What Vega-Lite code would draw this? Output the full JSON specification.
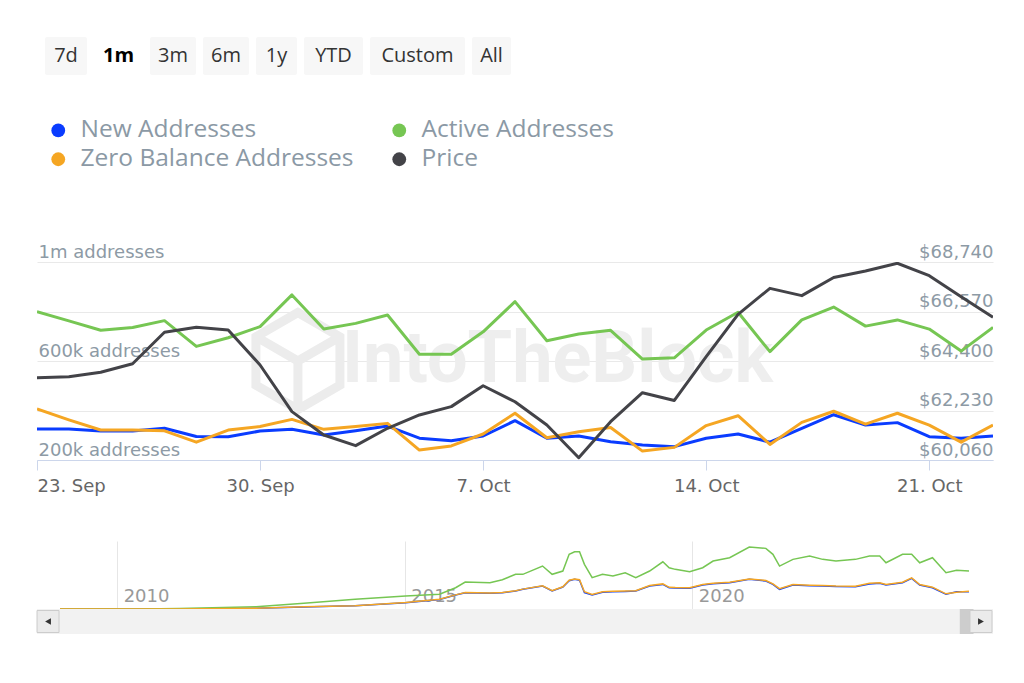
{
  "$schema": "https://vega.github.io/schema/vega-lite/v6.json",
  "padding": {"left": 34, "top": 37, "right": 0, "bottom": 0},
  "background": "white",
  "config": {
    "view": {"stroke": null},
    "axis": {"labelFont": "DejaVu Sans", "labelFontSize": 18, "titleFont": "DejaVu Sans"}
  },
  "datasets": {
    "buttons": [
      {"label": "7d", "selected": false},
      {"label": "1m", "selected": true},
      {"label": "3m", "selected": false},
      {"label": "6m", "selected": false},
      {"label": "1y", "selected": false},
      {"label": "YTD", "selected": false},
      {"label": "Custom", "selected": false},
      {"label": "All", "selected": false}
    ],
    "watermark": [
      {"kind": "text", "label": "IntoTheBlock", "date": "2024-10-09T08:00:00Z", "value": 604000},
      {"kind": "logo", "label": "", "date": "2024-10-01T04:30:00Z", "value": 600000}
    ],
    "main": [
      {"date": "2024-09-23", "new": 325000, "active": 799000, "zero": 406000, "price": 63670},
      {"date": "2024-09-24", "new": 325000, "active": 762000, "zero": 362000, "price": 63710},
      {"date": "2024-09-25", "new": 317000, "active": 724000, "zero": 321000, "price": 63905},
      {"date": "2024-09-26", "new": 317000, "active": 735000, "zero": 321000, "price": 64280},
      {"date": "2024-09-27", "new": 328000, "active": 763000, "zero": 318000, "price": 65660},
      {"date": "2024-09-28", "new": 295000, "active": 659000, "zero": 272000, "price": 65880},
      {"date": "2024-09-29", "new": 294000, "active": 694000, "zero": 321000, "price": 65760},
      {"date": "2024-09-30", "new": 317000, "active": 739000, "zero": 335000, "price": 64225},
      {"date": "2024-10-01", "new": 324000, "active": 867000, "zero": 364000, "price": 62180},
      {"date": "2024-10-02", "new": 301000, "active": 729000, "zero": 324000, "price": 61155},
      {"date": "2024-10-03", "new": 318000, "active": 752000, "zero": 335000, "price": 60690},
      {"date": "2024-10-04", "new": 337000, "active": 786000, "zero": 348000, "price": 61450},
      {"date": "2024-10-05", "new": 288000, "active": 627000, "zero": 240000, "price": 62035},
      {"date": "2024-10-06", "new": 278000, "active": 627000, "zero": 257000, "price": 62400},
      {"date": "2024-10-07", "new": 297000, "active": 718000, "zero": 305000, "price": 63315},
      {"date": "2024-10-08", "new": 359000, "active": 840000, "zero": 389000, "price": 62615},
      {"date": "2024-10-09", "new": 288000, "active": 682000, "zero": 290000, "price": 61595},
      {"date": "2024-10-10", "new": 297000, "active": 709000, "zero": 314000, "price": 60160},
      {"date": "2024-10-11", "new": 274000, "active": 724000, "zero": 331000, "price": 61740},
      {"date": "2024-10-12", "new": 261000, "active": 608000, "zero": 236000, "price": 63010},
      {"date": "2024-10-13", "new": 254000, "active": 613000, "zero": 251000, "price": 62670},
      {"date": "2024-10-14", "new": 288000, "active": 725000, "zero": 339000, "price": 64590},
      {"date": "2024-10-15", "new": 305000, "active": 797000, "zero": 379000, "price": 66445},
      {"date": "2024-10-16", "new": 272000, "active": 638000, "zero": 263000, "price": 67585},
      {"date": "2024-10-17", "new": 328000, "active": 766000, "zero": 352000, "price": 67265},
      {"date": "2024-10-18", "new": 383000, "active": 818000, "zero": 397000, "price": 68060},
      {"date": "2024-10-19", "new": 341000, "active": 741000, "zero": 345000, "price": 68345},
      {"date": "2024-10-20", "new": 351000, "active": 766000, "zero": 389000, "price": 68685},
      {"date": "2024-10-21", "new": 294000, "active": 729000, "zero": 341000, "price": 68140},
      {"date": "2024-10-22", "new": 288000, "active": 640000, "zero": 272000, "price": 67220},
      {"date": "2024-10-23", "new": 297000, "active": 736000, "zero": 341000, "price": 66315}
    ],
    "nav": [
      {"date": "2009-01-03", "new": 0, "active": 0, "zero": 0},
      {"date": "2010-06-01", "new": 0, "active": 2000, "zero": 0},
      {"date": "2011-02-01", "new": 2000, "active": 10000, "zero": 2000},
      {"date": "2012-06-01", "new": 15000, "active": 44000, "zero": 15000},
      {"date": "2013-04-01", "new": 40000, "active": 109000, "zero": 42000},
      {"date": "2013-12-01", "new": 55000, "active": 166000, "zero": 57000},
      {"date": "2014-02-20", "new": 60000, "active": 185000, "zero": 62000},
      {"date": "2015-01-07", "new": 120000, "active": 248000, "zero": 122000},
      {"date": "2015-08-10", "new": 180000, "active": 281000, "zero": 185000},
      {"date": "2015-11-20", "new": 267000, "active": 407000, "zero": 270000},
      {"date": "2016-01-20", "new": 311000, "active": 516000, "zero": 315000},
      {"date": "2016-06-25", "new": 300000, "active": 502000, "zero": 305000},
      {"date": "2016-09-12", "new": 311000, "active": 560000, "zero": 315000},
      {"date": "2016-12-05", "new": 344000, "active": 663000, "zero": 350000},
      {"date": "2017-01-20", "new": 376000, "active": 663000, "zero": 380000},
      {"date": "2017-05-25", "new": 439000, "active": 821000, "zero": 445000},
      {"date": "2017-07-25", "new": 344000, "active": 663000, "zero": 350000},
      {"date": "2017-10-01", "new": 420000, "active": 726000, "zero": 425000},
      {"date": "2017-11-10", "new": 540000, "active": 1045000, "zero": 550000},
      {"date": "2017-12-15", "new": 567000, "active": 1094000, "zero": 575000},
      {"date": "2018-01-15", "new": 548000, "active": 1094000, "zero": 560000},
      {"date": "2018-02-15", "new": 311000, "active": 854000, "zero": 330000},
      {"date": "2018-04-05", "new": 267000, "active": 598000, "zero": 280000},
      {"date": "2018-06-10", "new": 320000, "active": 663000, "zero": 330000},
      {"date": "2018-08-15", "new": 330000, "active": 630000, "zero": 340000},
      {"date": "2018-11-01", "new": 335000, "active": 693000, "zero": 345000},
      {"date": "2019-01-07", "new": 344000, "active": 598000, "zero": 350000},
      {"date": "2019-04-05", "new": 440000, "active": 726000, "zero": 448000},
      {"date": "2019-06-28", "new": 470000, "active": 903000, "zero": 480000},
      {"date": "2019-08-07", "new": 407000, "active": 789000, "zero": 415000},
      {"date": "2019-09-15", "new": 400000, "active": 758000, "zero": 410000},
      {"date": "2019-12-15", "new": 395000, "active": 712000, "zero": 405000},
      {"date": "2020-03-07", "new": 460000, "active": 789000, "zero": 470000},
      {"date": "2020-05-12", "new": 483000, "active": 917000, "zero": 492000},
      {"date": "2020-08-25", "new": 502000, "active": 980000, "zero": 512000},
      {"date": "2020-12-28", "new": 567000, "active": 1184000, "zero": 575000},
      {"date": "2021-04-12", "new": 535000, "active": 1159000, "zero": 545000},
      {"date": "2021-05-27", "new": 470000, "active": 1045000, "zero": 480000},
      {"date": "2021-07-08", "new": 376000, "active": 821000, "zero": 390000},
      {"date": "2021-10-01", "new": 458000, "active": 949000, "zero": 468000},
      {"date": "2022-01-15", "new": 445000, "active": 1012000, "zero": 455000},
      {"date": "2022-04-08", "new": 439000, "active": 949000, "zero": 450000},
      {"date": "2022-07-01", "new": 430000, "active": 917000, "zero": 440000},
      {"date": "2022-11-02", "new": 426000, "active": 949000, "zero": 436000},
      {"date": "2023-01-30", "new": 480000, "active": 1012000, "zero": 490000},
      {"date": "2023-04-05", "new": 491000, "active": 1012000, "zero": 500000},
      {"date": "2023-05-15", "new": 460000, "active": 884000, "zero": 470000},
      {"date": "2023-08-28", "new": 502000, "active": 1045000, "zero": 512000},
      {"date": "2023-10-25", "new": 586000, "active": 1045000, "zero": 595000},
      {"date": "2023-12-15", "new": 458000, "active": 884000, "zero": 468000},
      {"date": "2024-03-05", "new": 407000, "active": 980000, "zero": 417000},
      {"date": "2024-05-30", "new": 281000, "active": 693000, "zero": 290000},
      {"date": "2024-08-05", "new": 330000, "active": 739000, "zero": 320000},
      {"date": "2024-10-23", "new": 330000, "active": 726000, "zero": 340000}
    ]
  },
  "spacing": 43,
  "resolve": {"scale": {"color": "independent"}, "legend": {"color": "independent"}},
  "vconcat": [
    {
      "bounds": "flush",
      "spacing": 7,
      "hconcat": [
        {"width": 1, "height": 38, "data": {"values": [{}]}, "mark": {"type": "point", "opacity": 0}},
        {"width": 42, "height": 38, "view": {"fill": "#f7f7f7", "cornerRadius": 2}, "data": {"name": "buttons"},
         "transform": [{"filter": "datum.label === '7d'"}],
         "mark": {"type": "text", "font": "Open Sans", "fontSize": 20, "color": "#333333", "baseline": "middle"},
         "encoding": {"text": {"field": "label"}}},
        {"width": 49, "height": 38, "data": {"name": "buttons"},
         "transform": [{"filter": "datum.label === '1m'"}],
         "mark": {"type": "text", "font": "Open Sans", "fontSize": 20, "fontWeight": "bold", "color": "#000000", "baseline": "middle"},
         "encoding": {"text": {"field": "label"}}},
        {"width": 46, "height": 38, "view": {"fill": "#f7f7f7", "cornerRadius": 2}, "data": {"name": "buttons"},
         "transform": [{"filter": "datum.label === '3m'"}],
         "mark": {"type": "text", "font": "Open Sans", "fontSize": 20, "color": "#333333", "baseline": "middle"},
         "encoding": {"text": {"field": "label"}}},
        {"width": 46, "height": 38, "view": {"fill": "#f7f7f7", "cornerRadius": 2}, "data": {"name": "buttons"},
         "transform": [{"filter": "datum.label === '6m'"}],
         "mark": {"type": "text", "font": "Open Sans", "fontSize": 20, "color": "#333333", "baseline": "middle"},
         "encoding": {"text": {"field": "label"}}},
        {"width": 41, "height": 38, "view": {"fill": "#f7f7f7", "cornerRadius": 2}, "data": {"name": "buttons"},
         "transform": [{"filter": "datum.label === '1y'"}],
         "mark": {"type": "text", "font": "Open Sans", "fontSize": 20, "color": "#333333", "baseline": "middle"},
         "encoding": {"text": {"field": "label"}}},
        {"width": 59, "height": 38, "view": {"fill": "#f7f7f7", "cornerRadius": 2}, "data": {"name": "buttons"},
         "transform": [{"filter": "datum.label === 'YTD'"}],
         "mark": {"type": "text", "font": "Open Sans", "fontSize": 20, "color": "#333333", "baseline": "middle"},
         "encoding": {"text": {"field": "label"}}},
        {"width": 95, "height": 38, "view": {"fill": "#f7f7f7", "cornerRadius": 2}, "data": {"name": "buttons"},
         "transform": [{"filter": "datum.label === 'Custom'"}],
         "mark": {"type": "text", "font": "Open Sans", "fontSize": 20, "color": "#333333", "baseline": "middle"},
         "encoding": {"text": {"field": "label"}}},
        {"width": 39, "height": 38, "view": {"fill": "#f7f7f7", "cornerRadius": 2}, "data": {"name": "buttons"},
         "transform": [{"filter": "datum.label === 'All'"}],
         "mark": {"type": "text", "font": "Open Sans", "fontSize": 20, "color": "#333333", "baseline": "middle"},
         "encoding": {"text": {"field": "label"}}}
      ]
    },
    {
      "spacing": 46,
      "resolve": {"scale": {"color": "independent"}, "legend": {"color": "independent"}},
      "vconcat": [
        {
          "width": 956,
          "height": 198,
          "data": {"name": "main"},
          "layer": [
            {
              "encoding": {
                "x": {
                  "field": "date", "type": "temporal",
                  "scale": {"type": "utc", "domain": [{"year": 2024, "month": 9, "date": 23, "utc": true}, {"year": 2024, "month": 10, "date": 23, "utc": true}]},
                  "axis": {
                    "title": null,
                    "values": [
                      {"year": 2024, "month": 9, "date": 23, "utc": true},
                      {"year": 2024, "month": 9, "date": 30, "utc": true},
                      {"year": 2024, "month": 10, "date": 7, "utc": true},
                      {"year": 2024, "month": 10, "date": 14, "utc": true},
                      {"year": 2024, "month": 10, "date": 21, "utc": true}
                    ],
                    "format": "%-d. %b",
                    "grid": false,
                    "domainColor": "#ccd6eb",
                    "tickColor": "#ccd6eb",
                    "tickSize": 10,
                    "labelPadding": 7,
                    "labelColor": "#666666",
                    "labelFlush": true,
                    "labelOverlap": false
                  }
                }
              },
              "layer": [
                {
                  "data": {"name": "watermark"},
                  "transform": [{"filter": "datum.kind == 'text'"}],
                  "mark": {"type": "text", "font": "Roboto", "fontWeight": "bold", "fontSize": 72, "color": "#eeeeee", "baseline": "middle", "align": "center"},
                  "encoding": {
                    "y": {"field": "value", "type": "quantitative", "title": null,
                          "scale": {"domain": [200000, 1000000]},
                          "axis": {
                            "orient": "left",
                            "values": [200000, 400000, 600000, 800000, 1000000],
                            "labelExpr": "datum.value == 1000000 ? '1m addresses' : datum.value == 600000 ? '600k addresses' : datum.value == 200000 ? '200k addresses' : ''",
                            "grid": true, "gridColor": "#e9e9e9",
                            "domain": false, "ticks": false, "tickSize": 0,
                            "labelAlign": "left", "labelBaseline": "alphabetic",
                            "labelPadding": -1, "labelOffset": -5,
                            "labelColor": "#8d9aa5", "labelOverlap": false, "title": null
                          }},
                    "text": {"field": "label"}
                  }
                },
                {
                  "data": {"name": "watermark"},
                  "transform": [{"filter": "datum.kind == 'logo'"}],
                  "mark": {"type": "point", "shape": "M0,-1L0.866,-0.5L0.866,0.5L0,1L-0.866,0.5L-0.866,-0.5Z M-0.866,-0.5L0,0L0.866,-0.5 M0,0L0,1", "size": 9409, "filled": false, "stroke": "#ececec", "strokeWidth": 9, "opacity": 1},
                  "encoding": {
                    "y": {"field": "value", "type": "quantitative", "title": null}
                  }
                },
                {
                  "mark": {"type": "line", "strokeWidth": 3, "clip": true, "strokeJoin": "round"},
                  "encoding": {
                    "y": {"field": "new", "type": "quantitative", "title": null},
                    "color": {
                      "datum": "New Addresses", "type": "nominal",
                      "scale": {"domain": ["New Addresses", "Zero Balance Addresses", "Active Addresses", "Price"],
                                "range": ["#0a3cff", "#f5a623", "#76c653", "#434348"]},
                      "legend": {
                        "orient": "none", "legendX": 9, "legendY": -144,
                        "columns": 2, "columnPadding": 33, "rowPadding": 4,
                        "title": null, "padding": 0,
                        "symbolType": "circle", "symbolSize": 190,
                        "labelFont": "Open Sans", "labelFontSize": 24.5, "labelColor": "#8b99a5",
                        "labelOffset": 10, "labelLimit": 400,
                        "encode": {
                          "symbols": {
                            "update": {
                              "fill": {"signal": "datum.value === 'New Addresses' ? '#0a3cff' : datum.value === 'Active Addresses' ? '#76c653' : datum.value === 'Zero Balance Addresses' ? '#f5a623' : '#434348'"},
                              "strokeWidth": {"value": 0},
                              "size": {"value": 190},
                              "shape": {"value": "circle"}
                            }
                          }
                        }
                      }
                    }
                  }
                },
                {
                  "mark": {"type": "line", "strokeWidth": 3, "clip": true, "strokeJoin": "round"},
                  "encoding": {
                    "y": {"field": "active", "type": "quantitative", "title": null},
                    "color": {"datum": "Active Addresses", "type": "nominal"}
                  }
                },
                {
                  "mark": {"type": "line", "strokeWidth": 3, "clip": true, "strokeJoin": "round"},
                  "encoding": {
                    "y": {"field": "zero", "type": "quantitative", "title": null},
                    "color": {"datum": "Zero Balance Addresses", "type": "nominal"}
                  }
                }
              ]
            },
            {
              "mark": {"type": "line", "strokeWidth": 3, "clip": true, "strokeJoin": "round"},
              "encoding": {
                "x": {"field": "date", "type": "temporal"},
                "y": {
                  "field": "price", "type": "quantitative", "title": null,
                  "scale": {"domain": [60060, 68740]},
                  "axis": {
                    "orient": "right",
                    "values": [60060, 62230, 64400, 66570, 68740],
                    "format": "$,d",
                    "grid": false, "domain": false, "ticks": false, "tickSize": 0,
                    "labelAlign": "right", "labelBaseline": "alphabetic",
                    "labelPadding": 0, "labelOffset": -5,
                    "labelColor": "#8d9aa5", "labelOverlap": false, "title": null
                  }
                },
                "color": {"datum": "Price", "type": "nominal"}
              }
            }
          ],
          "resolve": {"scale": {"y": "independent"}}
        },
        {
          "bounds": "flush",
          "spacing": 0,
          "vconcat": [
            {
              "width": 956,
              "height": 68,
              "encoding": {
                "x": {
                  "field": "date", "type": "temporal",
                  "scale": {"type": "utc", "domain": [{"year": 2009, "month": 1, "date": 3, "utc": true}, {"year": 2024, "month": 10, "date": 23, "utc": true}], "range": [23, 932]},
                  "axis": {
                    "title": null,
                    "values": [{"year": 2010, "utc": true}, {"year": 2015, "utc": true}, {"year": 2020, "utc": true}],
                    "format": "%Y",
                    "grid": true, "gridColor": "#e6e6e6",
                    "domain": false, "ticks": false, "tickSize": 0,
                    "labelAlign": "left", "labelBaseline": "alphabetic",
                    "labelPadding": -8, "labelOffset": 6,
                    "labelColor": "#999999", "labelFlush": false, "labelOverlap": false
                  }
                }
              },
              "layer": [
                {
                  "data": {"name": "nav"},
                  "mark": {"type": "line", "color": "#0a3cff", "strokeWidth": 1.5},
                  "encoding": {"y": {"field": "new", "type": "quantitative", "scale": {"domain": [0, 1300000]}, "axis": null}}
                },
                {
                  "data": {"name": "nav"},
                  "mark": {"type": "line", "color": "#76c653", "strokeWidth": 1.5},
                  "encoding": {"y": {"field": "active", "type": "quantitative"}}
                },
                {
                  "data": {"name": "nav"},
                  "mark": {"type": "line", "color": "#f5a623", "strokeWidth": 1.5},
                  "encoding": {"y": {"field": "zero", "type": "quantitative"}}
                },
                {
                  "data": {"values": [{}]},
                  "mark": {"type": "rect", "color": "#6685c2", "opacity": 0.3},
                  "encoding": {
                    "x": {"datum": {"year": 2024, "month": 9, "date": 23, "utc": true}, "type": "temporal"},
                    "x2": {"datum": {"year": 2024, "month": 10, "date": 23, "utc": true}}
                  }
                },
                {
                  "data": {"values": [{}]},
                  "mark": {"type": "rule", "color": "#cccccc", "strokeWidth": 1},
                  "encoding": {"y": {"datum": 1300000, "type": "quantitative"}}
                },
                {
                  "data": {"values": [{}]},
                  "mark": {"type": "point", "shape": "M-0.7,-1H0.7V1H-0.7Z M-0.22,-0.45V0.45 M0.22,-0.45V0.45", "size": 729, "filled": true, "fill": "#ffffff", "stroke": "#999999", "strokeWidth": 1, "opacity": 1},
                  "encoding": {
                    "x": {"datum": {"year": 2024, "month": 10, "date": 6, "utc": true}, "type": "temporal"},
                    "y": {"datum": 650000, "type": "quantitative"}
                  }
                }
              ]
            },
            {
              "width": 956,
              "height": 25,
              "view": {"fill": "#f2f2f2"},
              "data": {"values": [{}]},
              "layer": [
                {
                  "mark": {"type": "rect", "fill": "#cdcdcd", "stroke": "#cdcdcd", "strokeWidth": 9, "clip": true},
                  "encoding": {
                    "x": {"datum": {"year": 2024, "month": 9, "date": 23, "utc": true}, "type": "temporal",
                          "scale": {"type": "utc", "domain": [{"year": 2009, "month": 1, "date": 3, "utc": true}, {"year": 2024, "month": 10, "date": 23, "utc": true}], "range": [23, 932]},
                          "axis": null},
                    "x2": {"datum": {"year": 2024, "month": 10, "date": 23, "utc": true}}
                  }
                },
                {
                  "mark": {"type": "point", "shape": "square", "size": 484, "filled": true, "fill": "#ebebeb", "stroke": "#cccccc", "strokeWidth": 1, "opacity": 1},
                  "encoding": {"x": {"datum": {"year": 2008, "month": 10, "date": 19, "utc": true}, "type": "temporal"}}
                },
                {
                  "mark": {"type": "point", "shape": "square", "size": 484, "filled": true, "fill": "#ebebeb", "stroke": "#cccccc", "strokeWidth": 1, "opacity": 1},
                  "encoding": {"x": {"datum": {"year": 2025, "month": 1, "date": 7, "utc": true}, "type": "temporal"}}
                },
                {
                  "mark": {"type": "point", "shape": "triangle-left", "size": 45, "filled": true, "color": "#333333", "opacity": 1},
                  "encoding": {"x": {"datum": {"year": 2008, "month": 10, "date": 19, "utc": true}, "type": "temporal"}}
                },
                {
                  "mark": {"type": "point", "shape": "triangle-right", "size": 45, "filled": true, "color": "#333333", "opacity": 1},
                  "encoding": {"x": {"datum": {"year": 2025, "month": 1, "date": 7, "utc": true}, "type": "temporal"}}
                }
              ]
            }
          ]
        }
      ]
    }
  ]
}
